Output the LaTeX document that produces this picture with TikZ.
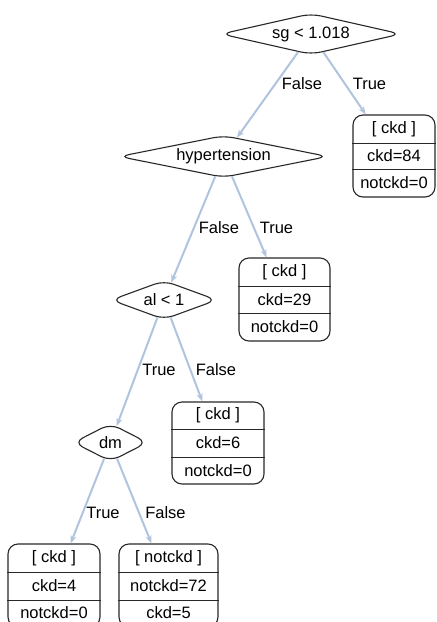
\documentclass[tikz,border=0pt]{standalone}
\usepackage{fontspec}
\setmainfont{Liberation Sans}
\usetikzlibrary{shapes.geometric,arrows.meta}
\definecolor{edgeblue}{RGB}{176,196,222}
\definecolor{boxline}{RGB}{40,40,40}
\tikzset{
  txt/.style={font=\fontsize{16.5}{19}\selectfont, inner sep=0pt, text=black},
  test/.style={diamond, draw=boxline, line width=1.1pt, rounded corners=10pt, inner sep=0pt, fill=white, font=\fontsize{16.5}{19}\selectfont},
  leafbox/.style={draw=boxline, line width=1.1pt, rounded corners=10pt, inner sep=0pt, fill=white},
  divider/.style={draw=boxline, line width=0.9pt},
  edge/.style={draw=edgeblue, line width=2pt, -{Stealth[length=8pt,width=6pt]}, shorten >=0pt},
}
\begin{document}
\begin{tikzpicture}[x=1pt,y=-1pt]
\clip (0,0) rectangle (437,622);
\fill[white] (0,0) rectangle (437,622);

% decision nodes
\node[test, aspect=4.4, minimum width=180, minimum height=41] (sg) at (311,34) {sg < 1.018};
\node[test, aspect=5, minimum width=209, minimum height=42] (hyp) at (223.5,156.5) {hypertension};
\node[test, aspect=2.7, minimum width=106, minimum height=39] (al) at (164,300) {al < 1};
\node[test, aspect=1.9, minimum width=74, minimum height=38] (dm) at (110.5,442.5) {dm};

% leaves
\node[leafbox, minimum width=82, minimum height=82] (l1) at (394,156) {};
\draw[divider] (l1.west |- 0,143) -- (l1.east |- 0,143);
\draw[divider] (l1.west |- 0,169) -- (l1.east |- 0,169);
\node[txt] (l1a) at (394,129) {[ ckd ]};
\node[txt] (l1b) at (394,156) {ckd=84};
\node[txt] (l1c) at (394,183) {notckd=0};

\node[leafbox, minimum width=91, minimum height=83] (l2) at (284.5,299.5) {};
\draw[divider] (l2.west |- 0,286) -- (l2.east |- 0,286);
\draw[divider] (l2.west |- 0,313) -- (l2.east |- 0,313);
\node[txt] (l2a) at (284.5,272) {[ ckd ]};
\node[txt] (l2b) at (284.5,299.5) {ckd=29};
\node[txt] (l2c) at (284.5,327) {notckd=0};

\node[leafbox, minimum width=92, minimum height=82] (l3) at (218,443) {};
\draw[divider] (l3.west |- 0,429) -- (l3.east |- 0,429);
\draw[divider] (l3.west |- 0,457) -- (l3.east |- 0,457);
\node[txt] (l3a) at (218,415.5) {[ ckd ]};
\node[txt] (l3b) at (218,443) {ckd=6};
\node[txt] (l3c) at (218,470.5) {notckd=0};

\node[leafbox, minimum width=92, minimum height=83] (l4) at (54,585.5) {};
\draw[divider] (l4.west |- 0,572) -- (l4.east |- 0,572);
\draw[divider] (l4.west |- 0,600) -- (l4.east |- 0,600);
\node[txt] (l4a) at (54,558) {[ ckd ]};
\node[txt] (l4b) at (54,586) {ckd=4};
\node[txt] (l4c) at (54,613) {notckd=0};

\node[leafbox, minimum width=99, minimum height=83] (l5) at (168.5,585.5) {};
\draw[divider] (l5.west |- 0,572) -- (l5.east |- 0,572);
\draw[divider] (l5.west |- 0,600) -- (l5.east |- 0,600);
\node[txt] (l5a) at (168.5,558) {[ notckd ]};
\node[txt] (l5b) at (168.5,586) {notckd=72};
\node[txt] (l5c) at (168.5,613) {ckd=5};

% edges
\draw[edge] (sg) -- (hyp);
\draw[edge] (sg) -- (l1);
\draw[edge] (hyp) -- (al);
\draw[edge] (hyp) -- (l2);
\draw[edge] (al) -- (dm);
\draw[edge] (al) -- (l3);
\draw[edge] (dm) -- (l4);
\draw[edge] (dm) -- (l5);

% edge labels
\node[txt] (e1) at (302,84) {False};
\node[txt] (e2) at (369.5,84) {True};
\node[txt] (e3) at (219,228) {False};
\node[txt] (e4) at (276.5,228) {True};
\node[txt] (e5) at (159,370) {True};
\node[txt] (e6) at (216,370) {False};
\node[txt] (e7) at (103,513) {True};
\node[txt] (e8) at (165.5,513) {False};
\end{tikzpicture}
\end{document}
